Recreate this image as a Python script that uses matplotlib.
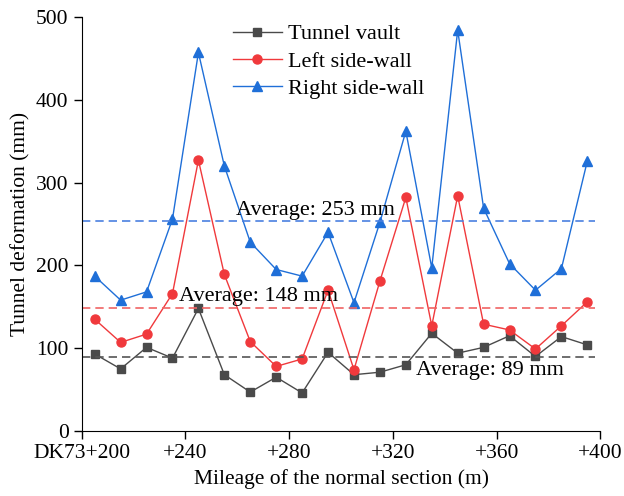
import numpy as np
import matplotlib.pyplot as plt

plt.rcParams['font.family'] = ['Liberation Serif', 'DejaVu Serif']
plt.rcParams['font.size'] = 15.5

# mileage of the normal section (m)
mileage = [205, 215, 225, 235, 245, 255, 265, 275, 285, 295,
           305, 315, 325, 335, 345, 355, 365, 375, 385, 395]
vault = [93, 75, 101, 88, 148, 68, 47, 65, 46, 95,
         68, 71, 80, 118, 94, 101, 115, 90, 114, 104]
left_wall = [135, 107, 117, 166, 327, 189, 108, 78, 87, 170,
             74, 181, 282, 127, 284, 129, 122, 99, 127, 156]
right_wall = [187, 158, 168, 256, 457, 320, 228, 195, 187, 240,
              155, 252, 362, 197, 484, 269, 202, 170, 196, 326]
averages = [253, 148, 89]
xticks = [200, 240, 280, 320, 360, 400]
xticklabels = ['DK73+200', '+240', '+280', '+320', '+360', '+400']

fig = plt.figure(figsize=(6.24, 4.96), dpi=100)
ax = fig.add_axes([0.131, 0.131, 0.831, 0.835])

ax.plot(mileage, vault, color='#4a4a4a', lw=1, marker='s', ms=6, label='Tunnel vault')
ax.plot(mileage, left_wall, color='#f0393c', lw=1, marker='o', ms=6.5, label='Left side-wall')
ax.plot(mileage, right_wall, color='#1f6fd8', lw=1, marker='^', ms=7.5, label='Right side-wall')

# average lines
ax.hlines(averages[0], 200, 398, colors='#4a80e0', linestyles=(0, (5, 3)), lw=1.2)
ax.hlines(averages[1], 200, 398, colors='#f06464', linestyles=(0, (5, 3)), lw=1.2)
ax.hlines(averages[2], 200, 398, colors='#555555', linestyles=(0, (5, 3)), lw=1.2)
ax.text(259.5, 266, 'Average: %d mm' % averages[0], va='center', ha='left', fontsize=16)
ax.text(237.5, 162, 'Average: %d mm' % averages[1], va='center', ha='left', fontsize=16)
ax.text(329, 73, 'Average: %d mm' % averages[2], va='center', ha='left', fontsize=16)

ax.set_xlim(200, 400)
ax.set_ylim(0, 500)
ax.set_xticks(xticks)
ax.set_xticklabels(xticklabels)
ax.set_yticks(np.arange(0, 501, 100))
ax.spines['top'].set_visible(False)
ax.spines['right'].set_visible(False)
ax.tick_params(direction='out', length=6, width=1)
ax.set_xlabel('Mileage of the normal section (m)')
ax.set_ylabel('Tunnel deformation (mm)')

ax.legend(loc='upper left', bbox_to_anchor=(0.27, 1.01), frameon=False, fontsize=16,
          handlelength=2.2, handletextpad=0.3, labelspacing=0.3, borderaxespad=0.1)

fig.savefig('out.png', dpi=100)
